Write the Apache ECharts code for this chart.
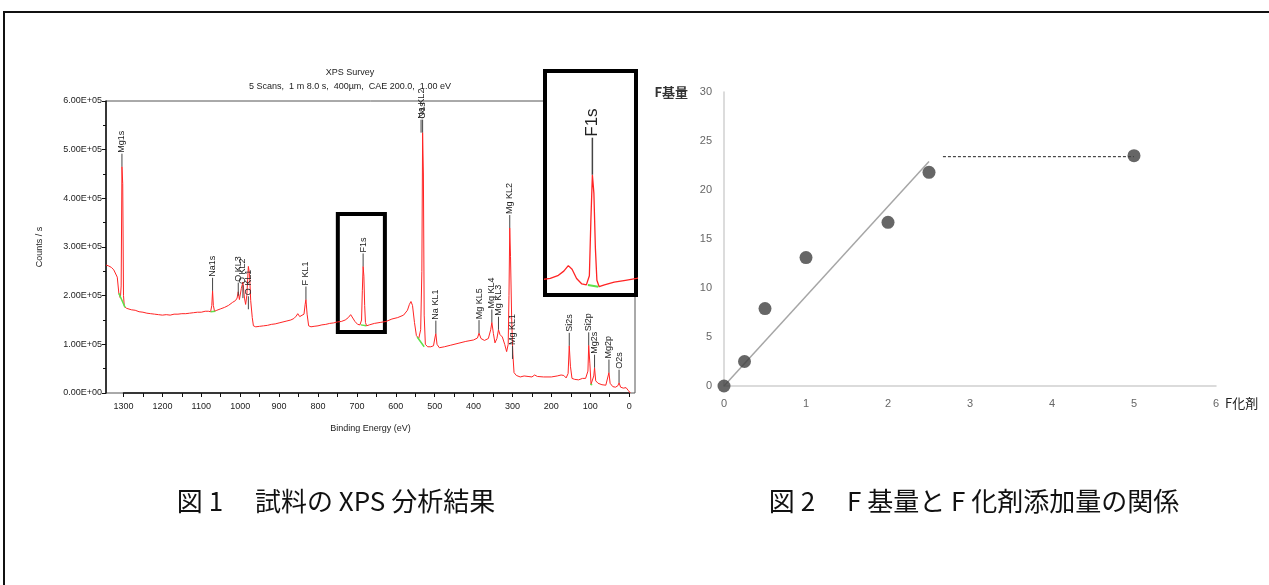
<!DOCTYPE html>
<html><head><meta charset="utf-8">
<script src="https://cdn.jsdelivr.net/npm/echarts@6/dist/echarts.min.js"></script>
<style>html,body{margin:0;padding:0;background:#fff}#c{width:1269px;height:585px}</style>
</head><body><div id="c"></div>
<script>
// ---------- Figure 1: XPS survey spectrum ----------
const xpsBE = [1345,1338,1331,1325,1320,1316,1312,1308,1306,1304,1302,1300,1298,1292,1280,1270,1260,1250,1240,1230,1220,1210,1200,1190,1180,1170,1160,1150,1140,1130,1120,1110,1100,1090,1082,1076,1073,1071,1069,1066,1060,1050,1040,1030,1020,1012,1008,1005,1002,997,993,989,986,983,979,976,973,969,966,960,950,940,930,920,910,900,890,880,870,862,856,852,847,842,836,833,831,828,824,818,810,800,790,780,770,760,750,740,730,722,716,711,705,698,692,688,686,684,682,680,678,675,668,655,640,625,610,595,580,570,565,561,557,552,547,541,536,533,531,529,527,524,518,510,503,499,497,494,488,475,460,440,420,400,390,386,381,372,362,356,353,349,345,340,336,332,326,320,315,311,309,307,305,302,299,296,290,280,270,260,250,243,240,236,220,200,185,175,168,162,157,154,151,147,140,130,120,112,106,104,101,98,95,91,89,86,80,70,60,55,52,49,42,35,29,26,22,15,8,5,2,0,-3];
const xpsCounts = [263000,261000,258000,253000,250000,238000,205000,195000,220000,465000,430000,200000,178000,174000,171000,170000,167000,166000,164000,163000,162000,161000,160000,161000,160000,162000,162000,163000,163000,164000,165000,166000,166000,168000,168000,167000,180000,210000,180000,168000,170000,173000,176000,180000,186000,190000,195000,208000,192000,215000,228000,195000,182000,200000,260000,245000,190000,155000,138000,136000,137000,138000,139000,141000,142000,144000,146000,148000,150000,153000,158000,163000,157000,155000,162000,182000,192000,162000,138000,136000,137000,138000,140000,141000,143000,144000,146000,147000,150000,155000,161000,157000,147000,141000,140000,150000,210000,260000,240000,180000,145000,138000,140000,143000,145000,147000,152000,155000,160000,170000,182000,188000,180000,145000,118000,112000,130000,250000,535000,450000,160000,100000,95000,95000,97000,115000,122000,100000,93000,95000,98000,102000,106000,109000,113000,123000,112000,108000,112000,130000,145000,122000,103000,112000,130000,120000,115000,100000,85000,100000,200000,339000,280000,150000,80000,42000,36000,33000,35000,34000,33000,37000,39000,34000,33000,33000,35000,37000,36000,31000,40000,97000,55000,30000,28000,27000,30000,30000,45000,98000,60000,18000,20000,35000,52000,25000,20000,17000,16000,20000,42000,20000,13000,12000,15000,21000,12000,10000,11000,12000,5000,1000,0];
const baseBE = [1312,1296,null,1076,1064,null,690,676,null,545,527,null,100,95];
const baseCounts = [205000,176000,null,167000,168000,null,140000,138000,null,115000,95000,null,18000,17000];
const peakNames = ['Mg1s','Na1s','O KL3','O KL2','O KL1','F KL1','F1s','Na KL2','O1s','Na KL1','Mg KL5','Mg KL4','Mg KL3','Mg KL2','Mg KL1','Si2s','Si2p','Mg2s','Mg2p','O2s'];
const peakBE = [1304,1071,1005,993,979,831,684,535,531,497,386,353,336,307,300,154,104,89,52,26];
const peakCounts = [465000,210000,200000,195000,172000,192000,260000,535000,535000,122000,123000,145000,130000,339000,70000,97000,98000,52000,42000,21000];
const countTicks = [0,100000,200000,300000,400000,500000,600000];
const beTicks = [0,100,200,300,400,500,600,700,800,900,1000,1100,1200,1300];

// ---------- Figure 2: F group vs F agent ----------
const fAgent = [0,0.25,0.5,1,2,2.5,5];
const fGroup = [0,2.5,7.9,13.1,16.7,21.8,23.5];
const trendX = [0,2.5];
const trendY = [0,22.9];
const plateauX = [2.67,5];
const plateauY = [23.4,23.4];
const fAgentTicks = [0,1,2,3,4,5,6];
const fGroupTicks = [0,5,10,15,20,25,30];

const FONT = 'Liberation Sans, Arial, sans-serif';
const JP = '"Noto Sans CJK JP", sans-serif';
function fmtE(v){
  if (v === 0) return '0.00E+00';
  const e = Math.floor(Math.log10(v) + 1e-9);
  const m = v / Math.pow(10, e);
  return m.toFixed(2) + 'E' + (e < 0 ? '-' : '+') + String(Math.abs(e)).padStart(2, '0');
}
const spectrum = xpsBE.map((b, i) => [b, xpsCounts[i]]);
const baseline = baseBE.map((b, i) => b === null ? ['-', '-'] : [b, baseCounts[i]]);
const peaks = peakBE.map((b, i) => [b, peakCounts[i], i]);

function labelRenderer(stem, size) {
  return function (params, api) {
    const p = api.coord([api.value(0), api.value(1)]);
    const name = peakNames[api.value(2)];
    return {
      type: 'group',
      children: [
        {type: 'line', shape: {x1: p[0], y1: p[1], x2: p[0], y2: p[1] - stem}, style: {stroke: '#444', lineWidth: size > 10 ? 1.5 : 1}},
        {type: 'text', x: p[0], y: p[1] - stem - 1, rotation: Math.PI / 2,
         style: {text: name, fontSize: size, fontFamily: FONT, fill: '#222', align: 'left', verticalAlign: 'middle'}}
      ]
    };
  };
}

const chart = echarts.init(document.getElementById('c'), null, {renderer: 'canvas'});
const beMin = -15, beMax = 1345;
const g0 = {left: 106, top: 101, width: 529, height: 292};
const pxPerEV = g0.width / (beMax - beMin);
const axisLeft = g0.left + (beMax - beTicks[beTicks.length - 1]) * pxPerEV;
const axisRight = g0.left + g0.width - (0 - beMin) * pxPerEV;

chart.setOption({
  animation: false,
  backgroundColor: '#fff',
  title: [{
    text: 'XPS Survey',
    subtext: '5 Scans,  1 m 8.0 s,  400µm,  CAE 200.0,  1.00 eV',
    left: 350, top: 68, textAlign: 'center', itemGap: 5, padding: 0,
    textStyle: {fontSize: 9, fontWeight: 'normal', color: '#222', fontFamily: FONT},
    subtextStyle: {fontSize: 9, color: '#222', fontFamily: FONT}
  }],
  grid: [
    Object.assign({show: true, borderColor: '#555', borderWidth: 1, backgroundColor: 'transparent', outerBoundsMode: 'none', containLabel: false}, g0),
    {left: axisLeft, width: axisRight - axisLeft, top: g0.top, height: g0.height, outerBoundsMode: 'none', containLabel: false},
    {left: 545, top: 71, width: 91, height: 224, show: true, borderColor: '#000', borderWidth: 4, backgroundColor: '#fff', outerBoundsMode: 'none', containLabel: false},
    {left: 724, top: 92, width: 492, height: 294, outerBoundsMode: 'none', containLabel: false}
  ],
  xAxis: [
    {gridIndex: 0, type: 'value', inverse: true, min: beMin, max: beMax,
     name: 'Binding Energy (eV)', nameLocation: 'middle', nameGap: 31,
     nameTextStyle: {fontSize: 9, color: '#222', fontFamily: FONT},
     axisLine: {show: false, onZero: false}, axisTick: {show: false}, axisLabel: {show: false}, splitLine: {show: false}},
    {gridIndex: 1, type: 'value', inverse: true, min: beTicks[0], max: beTicks[beTicks.length - 1], interval: 50,
     axisLine: {show: true, onZero: false, lineStyle: {color: '#111', width: 1.5}},
     axisTick: {show: true, length: 4, lineStyle: {color: '#111'}},
     axisLabel: {margin: 9, fontSize: 9, color: '#222', fontFamily: FONT,
                 formatter: v => beTicks.indexOf(v) >= 0 ? String(v) : ''},
     splitLine: {show: false}},
    {gridIndex: 2, type: 'value', inverse: true, min: 626, max: 747, show: false, axisLine: {onZero: false}},
    {gridIndex: 3, type: 'value', min: fAgentTicks[0], max: fAgentTicks[fAgentTicks.length - 1], interval: 1,
     name: 'F化剤', nameLocation: 'end', nameGap: 5,
     nameTextStyle: {fontSize: 13, color: '#222', fontFamily: JP, verticalAlign: 'top', align: 'left', padding: [11, 0, 0, 0]},
     axisLine: {show: true, onZero: false, lineStyle: {color: '#d0d0d0', width: 1.5}},
     axisTick: {show: false},
     axisLabel: {margin: 12, fontSize: 11, color: '#666', fontFamily: FONT},
     splitLine: {show: false}}
  ],
  yAxis: [
    {gridIndex: 0, type: 'value', min: countTicks[0], max: countTicks[countTicks.length - 1], interval: 100000,
     name: 'Counts / s', nameLocation: 'middle', nameGap: 62,
     nameTextStyle: {fontSize: 9, color: '#222', fontFamily: FONT},
     axisLine: {show: true, onZero: false, lineStyle: {color: '#111', width: 1.5}},
     axisTick: {show: true, length: 4, lineStyle: {color: '#111'}},
     minorTick: {show: true, splitNumber: 2, length: 3, lineStyle: {color: '#111'}},
     axisLabel: {margin: 4, fontSize: 9, color: '#222', fontFamily: FONT, formatter: fmtE},
     splitLine: {show: false}, minorSplitLine: {show: false}},
    {gridIndex: 1, type: 'value', min: 0, max: 1, show: false, axisLine: {show: false, onZero: false}},
    {gridIndex: 2, type: 'value', min: 129000, max: 373000, show: false, axisLine: {show: false, onZero: false}},
    {gridIndex: 3, type: 'value', min: fGroupTicks[0], max: fGroupTicks[fGroupTicks.length - 1], interval: 5,
     name: 'F基量', nameLocation: 'end', nameGap: 0,
     nameTextStyle: {fontSize: 13, fontWeight: 'bold', color: '#333', fontFamily: JP, align: 'right', verticalAlign: 'middle', padding: [0, 36, 8, 0]},
     axisLine: {show: true, onZero: false, lineStyle: {color: '#d0d0d0', width: 1.5}},
     axisTick: {show: false},
     axisLabel: {margin: 12, fontSize: 11, color: '#666', fontFamily: FONT},
     splitLine: {show: false}}
  ],
  series: [
    {type: 'line', xAxisIndex: 0, yAxisIndex: 0, data: spectrum, showSymbol: false, symbol: 'none',
     lineStyle: {color: '#ff2424', width: 1}, z: 2,
     markArea: {silent: true, label: {show: false},
       itemStyle: {color: 'rgba(0,0,0,0)', borderColor: '#000', borderWidth: 4},
       data: [[{coord: [749, 367800]}, {coord: [628, 125300]}]]}},
    {type: 'line', xAxisIndex: 0, yAxisIndex: 0, data: baseline, showSymbol: false, symbol: 'none',
     connectNulls: false, lineStyle: {color: '#5ee04a', width: 1.5}, z: 3},
    {type: 'custom', xAxisIndex: 0, yAxisIndex: 0, data: peaks, encode: {x: 0, y: 1},
     renderItem: labelRenderer(13, 9), z: 4, clip: false},
    {type: 'line', xAxisIndex: 2, yAxisIndex: 2, data: spectrum, showSymbol: false, symbol: 'none',
     lineStyle: {color: '#ff2424', width: 1.3}, z: 5, clip: true},
    {type: 'line', xAxisIndex: 2, yAxisIndex: 2, data: baseline, showSymbol: false, symbol: 'none',
     lineStyle: {color: '#5ee04a', width: 2}, z: 6, clip: true},
    {type: 'custom', xAxisIndex: 2, yAxisIndex: 2,
     data: peaks.filter(p => p[0] > 640 && p[0] < 740), encode: {x: 0, y: 1},
     renderItem: labelRenderer(37, 17), z: 7, clip: false},
    {type: 'line', xAxisIndex: 3, yAxisIndex: 3, data: trendX.map((x, i) => [x, trendY[i]]),
     showSymbol: false, symbol: 'none', lineStyle: {color: '#a6a6a6', width: 1.5}, z: 2},
    {type: 'line', xAxisIndex: 3, yAxisIndex: 3, data: plateauX.map((x, i) => [x, plateauY[i]]),
     showSymbol: false, symbol: 'none', lineStyle: {color: '#222', width: 1, type: [3, 2]}, z: 2},
    {type: 'scatter', xAxisIndex: 3, yAxisIndex: 3, data: fAgent.map((x, i) => [x, fGroup[i]]),
     symbol: 'circle', symbolSize: 13, itemStyle: {color: '#404040'}, z: 3}
  ],
  graphic: [
    {type: 'rect', shape: {x: 4, y: 12, width: 1300, height: 620}, style: {fill: 'none', stroke: '#111', lineWidth: 2}, z: 100, silent: true},
    {type: 'text', x: 336, y: 501, style: {text: '図 1　 試料の XPS 分析結果', fontSize: 26, fontFamily: JP, fill: '#111', align: 'center', verticalAlign: 'middle'}, z: 100},
    {type: 'text', x: 974, y: 501, style: {text: '図 2　 F 基量と F 化剤添加量の関係', fontSize: 26, fontFamily: JP, fill: '#111', align: 'center', verticalAlign: 'middle'}, z: 100}
  ]
});
</script>
</body></html>
